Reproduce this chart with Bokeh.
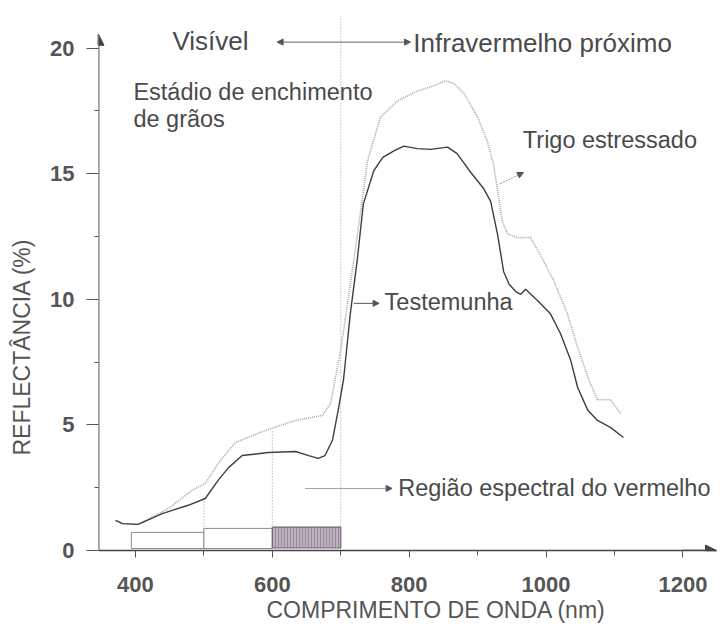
import math
from bokeh.plotting import figure
from bokeh.models import Label, Arrow, NormalHead, FixedTicker, Range1d
from bokeh.embed import file_html
from bokeh.resources import INLINE

# ---- data ----
wl_control = [371, 381, 404, 439, 477, 502, 521, 536, 556, 594, 634, 653, 667, 677, 688, 697,
              704, 714, 724, 733, 748, 755, 762, 777, 792, 812, 831, 856, 870, 890, 909, 919,
              929, 938, 946, 956, 963, 970, 987, 1006, 1021, 1036, 1046, 1061, 1075, 1094, 1113]
refl_control = [1.2, 1.07, 1.04, 1.47, 1.8, 2.07, 2.8, 3.3, 3.78, 3.9, 3.94, 3.78, 3.67, 3.78, 4.4, 5.7,
                6.8, 9.44, 11.55, 13.8, 15.1, 15.4, 15.66, 15.9, 16.1, 16.0, 15.97, 16.06, 15.8, 15.05, 14.4, 13.9,
                12.6, 11.1, 10.6, 10.3, 10.2, 10.4, 9.96, 9.44, 8.64, 7.57, 6.5, 5.58, 5.18, 4.9, 4.5]

wl_stress = [371, 381, 404, 415, 448, 483, 502, 521, 546, 590, 634, 673, 685, 700, 714, 729, 739,
             758, 783, 812, 831, 853, 865, 880, 900, 914, 923, 930, 936, 944, 958, 977, 991,
             1011, 1031, 1046, 1061, 1075, 1094, 1109]
refl_stress = [1.2, 1.07, 1.04, 1.2, 1.67, 2.4, 2.67, 3.47, 4.3, 4.78, 5.18, 5.38, 5.85, 8.0, 10.6, 13.5, 15.5,
               17.25, 17.9, 18.3, 18.45, 18.7, 18.6, 18.2, 17.25, 16.3, 15.4, 14.2, 13.1, 12.6, 12.45, 12.47, 11.8,
               10.75, 9.44, 8.1, 6.9, 6.0, 6.0, 5.46]

band_left = [394, 500, 600]
band_right = [500, 600, 700]
band_top = [0.72, 0.88, 0.93]
band_bottom = [0.08, 0.08, 0.1]

x_ticks = [400, 600, 800, 1000, 1200]
x_minor = [500, 700, 900, 1100]
y_ticks = [0, 5, 10, 15, 20]
y_minor = [2.5, 7.5, 12.5, 17.5]

FONT = "Liberation Sans"
TXT = "#4a4a4a"
NB = "\u00a0"

p = figure(width=718, height=630, x_range=Range1d(346, 1249), y_range=Range1d(0, 21.3),
           min_border_left=98, min_border_right=2, min_border_top=15, min_border_bottom=80,
           toolbar_location=None, output_backend="svg")
p.outline_line_color = None
p.grid.visible = False
p.background_fill_color = "white"
p.border_fill_color = "white"

# axes
p.xaxis.ticker = FixedTicker(ticks=x_ticks, minor_ticks=x_minor)
p.yaxis.ticker = FixedTicker(ticks=y_ticks, minor_ticks=y_minor)
for ax in (p.xaxis, p.yaxis):
    ax.major_label_text_font = FONT
    ax.major_label_text_font_style = "bold"
    ax.major_label_text_font_size = "22px"
    ax.major_label_text_color = "#555555"
    ax.major_tick_in = 0
    ax.minor_tick_in = 0
    ax.major_tick_line_color = "#555555"
    ax.minor_tick_line_color = "#555555"
    ax.axis_label_text_font = FONT
    ax.axis_label_text_font_style = "normal"
    ax.axis_label_text_font_size = "23px"
    ax.axis_label_text_color = "#555555"
p.xaxis.axis_line_color = "#444444"
p.xaxis.axis_line_width = 1.6
p.xaxis.major_tick_out = 7
p.xaxis.minor_tick_out = 5
p.xaxis.major_label_standoff = 19
p.xaxis.axis_label = NB * 9 + "COMPRIMENTO DE ONDA (nm)"
p.xaxis.axis_label_standoff = 2
p.yaxis.axis_line_alpha = 0
p.yaxis.major_tick_out = 12
p.yaxis.minor_tick_out = 4
p.yaxis.major_label_standoff = 12
p.yaxis.axis_label = "REFLECTÂNCIA (%)" + NB * 20
p.yaxis.axis_label_standoff = 12

# y axis line with arrow and x axis arrow head
p.add_layout(Arrow(x_start=346, y_start=0, x_end=346, y_end=20.55, line_color="#444444", line_width=1.8,
                   end=NormalHead(size=11, fill_color="#444444", line_color="#444444")))
p.add_layout(Arrow(x_start=1200, y_start=0, x_end=1249, y_end=0, line_color="#444444", line_width=1.6,
                   end=NormalHead(size=11, fill_color="#444444", line_color="#444444")))

# band rectangles
p.quad(left=band_left[:2], right=band_right[:2], top=band_top[:2], bottom=band_bottom[:2],
       fill_color="white", line_color="#8a8a8a", line_width=1)
p.quad(left=band_left[2:], right=band_right[2:], top=band_top[2:], bottom=band_bottom[2:],
       fill_color="#bfb2bf", line_color="#6d626d", line_width=1.2,
       hatch_pattern="vertical_line", hatch_color="#978a97", hatch_scale=3, hatch_weight=1)

# vertical dotted guide lines
p.segment(x0=[500, 600, 700], y0=[band_top[0], band_top[1], 0],
          x1=[500, 600, 700], y1=[refl_control[5], refl_stress[9], 21.3],
          line_color="#9a9a9a", line_dash="1 2", line_width=1)

# curves
p.line(wl_stress, refl_stress, line_color="#a8a8a8", line_width=1.6, line_dash="1 1")
p.line(wl_control, refl_control, line_color="#3f3f3f", line_width=1.4)

# annotation arrows
small = dict(size=6, fill_color="#555555", line_color="#555555")
p.add_layout(Arrow(x_start=700, y_start=20.24, x_end=607, y_end=20.24, line_color="#666666", line_width=1,
                   end=NormalHead(**small)))
p.add_layout(Arrow(x_start=700, y_start=20.24, x_end=802, y_end=20.24, line_color="#666666", line_width=1,
                   end=NormalHead(**small)))
p.add_layout(Arrow(x_start=933, y_start=14.6, x_end=967, y_end=15.05, line_color="#999999", line_width=1,
                   line_dash="2 1", end=NormalHead(**small)))
p.add_layout(Arrow(x_start=719, y_start=9.84, x_end=756, y_end=9.84, line_color="#555555", line_width=1,
                   end=NormalHead(**small)))
p.add_layout(Arrow(x_start=648, y_start=2.47, x_end=775, y_end=2.47, line_color="#a0a0a0", line_width=1,
                   end=NormalHead(**small)))

def lab(x, y, t, size="23.5px", align="left", angle=0.0, color=TXT, style="normal"):
    p.add_layout(Label(x=x, y=y, text=t, text_font=FONT, text_font_size=size, text_color=color,
                       text_align=align, text_baseline="middle", angle=angle, text_font_style=style))

lab(454, 20.28, "Visível", size="26px")
lab(806, 20.2, "Infravermelho próximo", size="26px")
lab(397, 18.25, "Estádio de enchimento")
lab(397, 17.17, "de grãos")
lab(966, 16.33, "Trigo estressado")
lab(764, 9.88, "Testemunha")
lab(784, 2.47, "Região espectral do vermelho")

open("out.html", "w").write(file_html(p, INLINE))
